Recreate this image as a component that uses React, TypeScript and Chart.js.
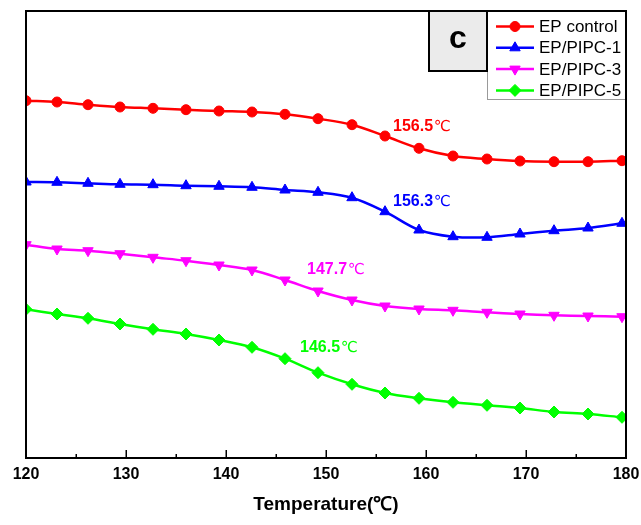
import React, { useEffect, useRef } from 'react';
import { Chart, registerables } from 'chart.js';
import { drawPoint } from 'chart.js/helpers';

Chart.register(...registerables);

// ---- data (y in arbitrary heat-flow units) ----
const temperatures = [120, 123.1, 126.2, 129.4, 132.7, 136, 139.3, 142.6, 145.9, 149.2, 152.6, 155.9, 159.3, 162.7, 166.1, 169.4, 172.8, 176.2, 179.6];
const epControl = [35.73, 35.6, 35.33, 35.1, 34.97, 34.83, 34.7, 34.6, 34.37, 33.93, 33.33, 32.2, 30.97, 30.2, 29.9, 29.7, 29.63, 29.63, 29.73];
const epPipc1 = [27.6, 27.57, 27.47, 27.37, 27.33, 27.23, 27.17, 27.07, 26.8, 26.57, 26.03, 24.63, 22.8, 22.13, 22.07, 22.4, 22.73, 23.0, 23.47];
const epPipc3 = [21.33, 20.9, 20.73, 20.43, 20.07, 19.73, 19.3, 18.8, 17.8, 16.7, 15.8, 15.2, 14.9, 14.77, 14.57, 14.4, 14.27, 14.2, 14.13];
const epPipc5 = [14.87, 14.4, 13.97, 13.4, 12.87, 12.4, 11.8, 11.07, 9.93, 8.53, 7.37, 6.5, 5.97, 5.57, 5.27, 5.0, 4.6, 4.4, 4.07];
const seriesNames = ['EP control', 'EP/PIPC-1', 'EP/PIPC-3', 'EP/PIPC-5'];
const xTickLabels = [120, 130, 140, 150, 160, 170, 180];
const tgTexts = ['156.5', '156.3', '147.7', '146.5'];
const tgUnit = '℃';
const panelLetter = 'c';
const xTitle = 'Temperature(℃)';

// ---- annotation anchors (data coordinates) and styles ----
const tgAnchorX = [156.7, 156.7, 148.1, 147.4];
const tgAnchorY = [33.1, 25.63, 18.8, 11.0];
const colors = ['#ff0000', '#0000ff', '#ff00ff', '#00ff00'];
const pointStyles = ['circle', 'triangle', 'triangle', 'rectRot'];
const pointRotations = [0, 0, 180, 0];
const pointRadii = [5, 6, 6, 6];

const FONT = '"Liberation Sans", Arial, sans-serif';

const overlayPlugin = {
  id: 'overlay',
  afterDatasetsDraw(chart: any) {
    const { ctx, chartArea: a, scales } = chart;
    const x = scales.x;
    const y = scales.y;
    ctx.save();

    // Tg annotations
    tgTexts.forEach((t, i) => {
      const px = x.getPixelForValue(tgAnchorX[i]);
      const py = y.getPixelForValue(tgAnchorY[i]);
      ctx.fillStyle = colors[i];
      ctx.textBaseline = 'middle';
      ctx.textAlign = 'left';
      ctx.font = `bold 16px ${FONT}`;
      ctx.fillText(t, px, py);
      const w = ctx.measureText(t).width;
      ctx.font = `15px "DejaVu Sans", sans-serif`;
      ctx.fillText(tgUnit, px + w + 1, py);
    });

    // legend box
    const lw = 139, lh = 88;
    const lx = a.right - lw, ly = a.top;
    ctx.fillStyle = '#ffffff';
    ctx.fillRect(lx, ly, lw, lh);
    ctx.strokeStyle = '#9a9a9a';
    ctx.lineWidth = 1;
    ctx.strokeRect(lx + 0.5, ly + 0.5, lw, lh);
    chart.data.datasets.forEach((ds: any, i: number) => {
      const ry = ly + 15.5 + i * 21.3;
      ctx.strokeStyle = ds.borderColor;
      ctx.fillStyle = ds.backgroundColor;
      ctx.lineWidth = 2.5;
      ctx.beginPath();
      ctx.moveTo(lx + 9, ry);
      ctx.lineTo(lx + 47, ry);
      ctx.stroke();
      ctx.lineWidth = 1;
      drawPoint(ctx, { pointStyle: ds.pointStyle, radius: ds.pointRadius, rotation: ds.pointRotation, borderWidth: 1 }, lx + 28, ry);
      ctx.fillStyle = '#000';
      ctx.font = `17px ${FONT}`;
      ctx.textAlign = 'left';
      ctx.textBaseline = 'middle';
      ctx.fillText(ds.label, lx + 52, ry + 1);
    });

    // panel letter box
    const cw = 58, ch = 60;
    const cx = lx - cw, cy = a.top;
    ctx.fillStyle = '#ebebeb';
    ctx.fillRect(cx, cy, cw, ch);
    ctx.strokeStyle = '#000';
    ctx.lineWidth = 2;
    ctx.strokeRect(cx, cy, cw, ch);
    ctx.fillStyle = '#000';
    ctx.font = `bold 32px ${FONT}`;
    ctx.textAlign = 'center';
    ctx.textBaseline = 'middle';
    ctx.fillText(panelLetter, cx + cw / 2, cy + ch / 2 - 2);

    // frame
    ctx.strokeStyle = '#000';
    ctx.lineWidth = 2;
    ctx.strokeRect(a.left, a.top, a.right - a.left, a.bottom - a.top);

    // inward ticks (major every 10, minor every 5)
    ctx.lineWidth = 1.5;
    for (let v = x.min; v <= x.max + 0.001; v += 5) {
      const px = Math.round(x.getPixelForValue(v)) + 0.25;
      const major = Math.abs(v % 10) < 0.001;
      ctx.beginPath();
      ctx.moveTo(px, a.bottom);
      ctx.lineTo(px, a.bottom - (major ? 8 : 4));
      ctx.stroke();
    }
    ctx.restore();
  },
};

const seriesValues = [epControl, epPipc1, epPipc3, epPipc5];

export default function App() {
  const ref = useRef<HTMLCanvasElement>(null);
  useEffect(() => {
    if (!ref.current) return;
    const chart = new Chart(ref.current, {
      type: 'line',
      data: {
        datasets: seriesValues.map((vals, i) => ({
          label: seriesNames[i],
          data: temperatures.map((t, j) => ({ x: t, y: vals[j] })),
          borderColor: colors[i],
          backgroundColor: colors[i],
          borderWidth: 2.5,
          pointStyle: pointStyles[i] as any,
          pointRotation: pointRotations[i],
          pointRadius: pointRadii[i],
          pointBorderWidth: 1,
          tension: 0.35,
          clip: 0,
        })),
      },
      options: {
        animation: false,
        responsive: false,
        layout: { padding: { left: 26, right: 15, top: 11, bottom: 0 } },
        plugins: { legend: { display: false }, tooltip: { enabled: false } },
        scales: {
          x: {
            type: 'linear',
            min: xTickLabels[0],
            max: xTickLabels[xTickLabels.length - 1],
            border: { display: false },
            grid: { display: false, drawTicks: false },
            afterBuildTicks: (s: any) => {
              s.ticks = xTickLabels.map((v) => ({ value: v }));
            },
            ticks: {
              color: '#000',
              padding: 7,
              maxRotation: 0,
              autoSkip: false,
              font: { family: FONT, size: 16, weight: 'bold' },
            },
            title: {
              display: true,
              text: xTitle,
              color: '#000',
              font: { family: FONT, size: 19, weight: 'bold' },
              padding: { top: 0, bottom: 9 },
            },
            afterFit: (s: any) => {
              s.height = 67;
              s.paddingLeft = 0;
              s.paddingRight = 0;
            },
          },
          y: { display: false, min: 0, max: 44.7 },
        },
      },
      plugins: [overlayPlugin],
    });
    return () => chart.destroy();
  }, []);
  return (
    <div style={{ position: 'absolute', left: 0, top: 0, width: 641, height: 525, background: '#fff' }}>
      <canvas ref={ref} width={641} height={525} />
    </div>
  );
}
